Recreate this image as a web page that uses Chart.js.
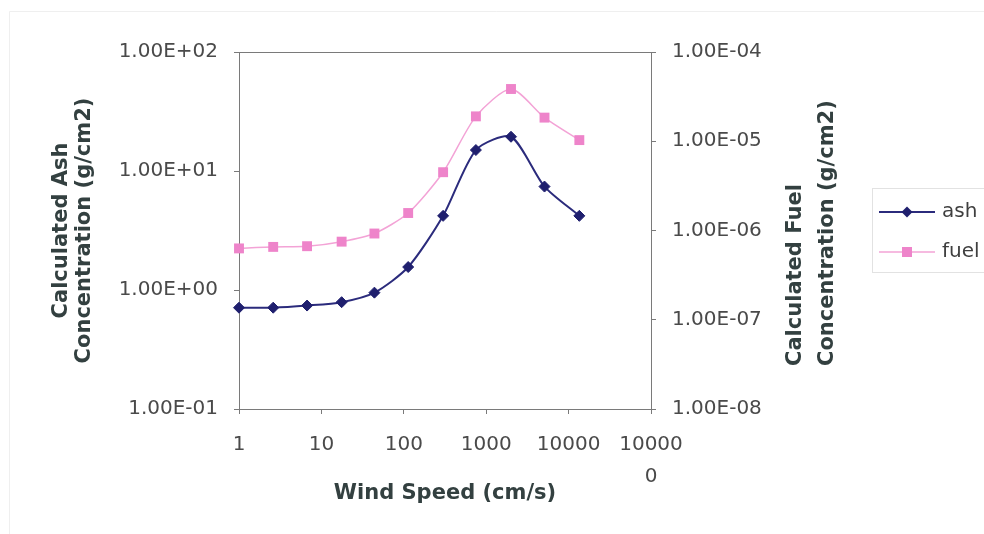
<!DOCTYPE html>
<html>
<head>
<meta charset="utf-8">
<title>Ash and fuel concentration vs wind speed</title>
<script src="https://cdn.jsdelivr.net/npm/chart.js@4.4.1/dist/chart.umd.min.js"></script>
<style>
  html, body { margin: 0; padding: 0; background: #fff; }
</style>
</head>
<body>
<canvas id="concChart" width="984" height="534"></canvas>
<script>
// wind speed (cm/s) and the calculated concentrations (g/cm2)
const windSpeed = [1, 2.6, 6.7, 17.6, 44, 113, 300, 750, 2000, 5100, 13500];
const ashConc = [0.71, 0.71, 0.74, 0.79, 0.95, 1.56, 4.2, 15, 19.4, 7.4, 4.2];
const fuelConc = [6.3e-7, 6.55e-7, 6.67e-7, 7.5e-7, 9.25e-7, 1.57e-6, 4.5e-6, 1.9e-5, 3.85e-5, 1.84e-5, 1.03e-5];

const xTicks = [1, 10, 100, 1000, 10000, 100000];
const xTickText = ['1', '10', '100', '1000', '10000', ['10000', '0']];
const ashTicks = [0.1, 1, 10, 100];
const ashTickText = ['1.00E-01', '1.00E+00', '1.00E+01', '1.00E+02'];
const fuelTicks = [1e-8, 1e-7, 1e-6, 1e-5, 1e-4];
const fuelTickText = ['1.00E-08', '1.00E-07', '1.00E-06', '1.00E-05', '1.00E-04'];

const seriesNames = ['ash', 'fuel'];
const xTitle = 'Wind Speed (cm/s)';
const ashTitle = ['Calculated Ash', 'Concentration (g/cm2)'];
const fuelTitle = ['Calculated Fuel', 'Concentration (g/cm2)'];

const ASH_LINE = '#2b2b7c', ASH_MARK = '#1f1f6e';
const FUEL_LINE = '#f3a3d6', FUEL_MARK = '#ee84ca';
const TICK_COLOR = '#4a4a4a', TITLE_COLOR = '#334040', AXIS_COLOR = '#7a7a7a';

Chart.defaults.font.family = '"DejaVu Sans", sans-serif';

// little line+marker swatch used in the legend
function swatch(shape, lineColor, markColor) {
  const c = document.createElement('canvas');
  c.width = 56; c.height = 16;
  const g = c.getContext('2d');
  g.strokeStyle = lineColor;
  g.lineWidth = shape === 'diamond' ? 2 : 1.5;
  g.beginPath(); g.moveTo(0, 8); g.lineTo(56, 8); g.stroke();
  g.fillStyle = markColor;
  g.beginPath();
  if (shape === 'diamond') {
    g.moveTo(28, 2.5); g.lineTo(33.5, 8); g.lineTo(28, 13.5); g.lineTo(22.5, 8);
  } else {
    g.rect(23, 3, 10, 10);
  }
  g.fill();
  return c;
}
const swatches = [swatch('diamond', ASH_LINE, ASH_MARK), swatch('square', FUEL_LINE, FUEL_MARK)];

const pts = (ys) => windSpeed.map((x, i) => ({x: x, y: ys[i]}));

// outer frame, top edge of the plot box
const frame = {
  id: 'frame',
  beforeDatasetsDraw(chart) {
    const {ctx, chartArea: a} = chart;
    ctx.save();
    ctx.strokeStyle = AXIS_COLOR;
    ctx.lineWidth = 1;
    ctx.beginPath();
    ctx.moveTo(a.left, a.top + 0.5);
    ctx.lineTo(a.right, a.top + 0.5);
    ctx.stroke();
    ctx.strokeStyle = '#efefef';
    ctx.beginPath();
    ctx.moveTo(9.5, 534); ctx.lineTo(9.5, 11.5); ctx.lineTo(984, 11.5);
    ctx.stroke();
    // legend box
    ctx.strokeStyle = '#e2e2e2';
    ctx.strokeRect(872.5, 188.5, 120, 84);
    ctx.restore();
  }
};

// move the legend out to the right of the fuel axis
const legendPlace = {
  id: 'legendPlace',
  afterLayout(chart) {
    const lg = chart.legend;
    const w = lg.width, h = lg.height;
    lg.left = 862; lg.top = 182;
    lg.right = lg.left + w; lg.bottom = lg.top + h;
  }
};

// right axis title reads bottom-to-top, lines bottom aligned
const fuelAxisTitle = {
  id: 'fuelAxisTitle',
  afterDraw(chart) {
    const ctx = chart.ctx;
    const s = chart.scales.y1;
    ctx.save();
    ctx.font = 'bold 21px "DejaVu Sans"';
    ctx.fillStyle = TITLE_COLOR;
    ctx.textAlign = 'left';
    ctx.textBaseline = 'middle';
    fuelTitle.forEach((line, i) => {
      ctx.save();
      ctx.translate(s.left + 145 + i * 32, s.bottom - 43);
      ctx.rotate(-Math.PI / 2);
      ctx.fillText(line, 0, 0);
      ctx.restore();
    });
    ctx.restore();
  }
};

new Chart(document.getElementById('concChart'), {
  type: 'line',
  data: {
    datasets: [{
      label: seriesNames[0],
      data: pts(ashConc),
      yAxisID: 'y',
      borderColor: ASH_LINE,
      borderWidth: 2,
      backgroundColor: ASH_MARK,
      pointStyle: 'rectRot',
      pointRadius: 5.5,
      pointBorderWidth: 1,
      pointBorderColor: ASH_MARK,
      pointBackgroundColor: ASH_MARK,
      tension: 0.25,
      clip: false
    }, {
      label: seriesNames[1],
      data: pts(fuelConc),
      yAxisID: 'y1',
      borderColor: FUEL_LINE,
      borderWidth: 1.5,
      backgroundColor: FUEL_MARK,
      pointStyle: 'rect',
      pointRadius: 7,
      pointBorderWidth: 0,
      pointBackgroundColor: FUEL_MARK,
      tension: 0.25,
      clip: false
    }]
  },
  options: {
    responsive: false,
    animation: false,
    devicePixelRatio: 1,
    layout: { padding: { top: 52, left: 0, right: 0, bottom: 0 } },
    plugins: {
      tooltip: { enabled: false },
      legend: {
        position: 'chartArea',
        align: 'start',
        labels: {
          usePointStyle: true,
          pointStyleWidth: 50,
          padding: 20,
          color: '#3f3f3f',
          font: { size: 20 },
          generateLabels(chart) {
            const items = Chart.defaults.plugins.legend.labels.generateLabels(chart);
            items.forEach((it, i) => { it.pointStyle = swatches[i]; });
            return items;
          }
        }
      }
    },
    scales: {
      x: {
        type: 'logarithmic',
        position: 'bottom',
        min: 1,
        max: 100000,
        afterBuildTicks: (scale) => { scale.ticks = xTicks.map(v => ({value: v})); },
        afterFit: (scale) => { scale.height = 125; },
        ticks: {
          autoSkip: false,
          maxRotation: 0,
          minRotation: 0,
          padding: 15,
          color: TICK_COLOR,
          font: { size: 20, lineHeight: 1.6 },
          callback: (v, i) => xTickText[i]
        },
        grid: { drawOnChartArea: false, drawTicks: true, tickLength: 5, color: AXIS_COLOR },
        border: { color: AXIS_COLOR },
        title: {
          display: true,
          text: xTitle,
          color: TITLE_COLOR,
          font: { size: 21, weight: 'bold', lineHeight: 1.1 },
          padding: { top: 0, bottom: 29 }
        }
      },
      y: {
        type: 'logarithmic',
        position: 'left',
        min: 0.1,
        max: 100,
        afterBuildTicks: (scale) => { scale.ticks = ashTicks.map(v => ({value: v})); },
        afterFit: (scale) => { scale.width = 239; },
        ticks: {
          autoSkip: false,
          padding: 16,
          color: TICK_COLOR,
          font: { size: 20 },
          callback: (v, i) => ashTickText[i]
        },
        grid: { drawOnChartArea: false, drawTicks: true, tickLength: 5, color: AXIS_COLOR },
        border: { color: AXIS_COLOR },
        title: {
          display: true,
          text: ashTitle,
          color: TITLE_COLOR,
          font: { size: 21, weight: 'bold', lineHeight: 1.1 },
          padding: { top: 50, bottom: 0 }
        }
      },
      y1: {
        type: 'logarithmic',
        position: 'right',
        min: 1e-8,
        max: 1e-4,
        afterBuildTicks: (scale) => { scale.ticks = fuelTicks.map(v => ({value: v})); },
        afterFit: (scale) => { scale.width = 333; },
        ticks: {
          autoSkip: false,
          padding: 16,
          color: TICK_COLOR,
          font: { size: 20 },
          callback: (v, i) => fuelTickText[i]
        },
        grid: { drawOnChartArea: false, drawTicks: true, tickLength: 5, color: AXIS_COLOR },
        border: { color: AXIS_COLOR }
      }
    }
  },
  plugins: [frame, legendPlace, fuelAxisTitle]
});
</script>
</body>
</html>
